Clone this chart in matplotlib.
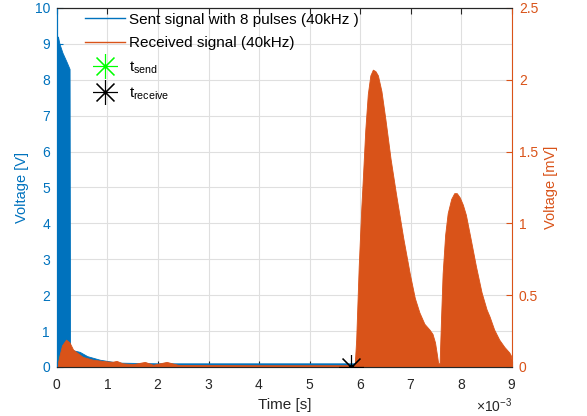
import numpy as np
import matplotlib; matplotlib.use("Agg")
import matplotlib.pyplot as plt
from matplotlib.lines import Line2D
from matplotlib.ticker import ScalarFormatter

plt.rcParams.update({'font.family': 'Liberation Sans', 'font.size': 10,
                     'axes.unicode_minus': False, 'mathtext.default': 'regular'})

BLUE = '#0072BD'
ORANGE = '#D95319'

# sent signal envelope (time in ms, voltage in V)
sent_t = [0.0, 0.01, 0.02, 0.05, 0.11, 0.19, 0.25, 0.26, 0.3, 0.45, 0.6, 0.85, 1.2,
          2.0, 3.0, 4.0, 5.0, 5.9, 6.25, 6.3, 7.0, 7.9, 8.5, 9.0]
sent_v = [0.0, 9.2, 9.2, 9.0, 8.75, 8.5, 8.3, 0.5, 0.47, 0.42, 0.3, 0.2, 0.12,
          0.1, 0.1, 0.1, 0.1, 0.1, 0.1, 0.05, 0.05, 0.08, 0.04, 0.02]

# received signal envelope (time in ms, voltage in mV)
recv_t = [0.0, 0.05, 0.1, 0.18, 0.25, 0.32, 0.51, 0.71, 1.0, 1.1, 1.18, 1.3, 1.5,
          1.74, 1.9, 2.17, 2.4, 3.0, 4.0, 5.0, 5.8, 5.89,
          5.92, 5.97, 6.02, 6.05, 6.1, 6.15, 6.2, 6.25, 6.3, 6.35, 6.42, 6.5, 6.6,
          6.71, 6.85, 6.98, 7.08, 7.17, 7.27, 7.37, 7.43, 7.48, 7.52, 7.54,
          7.57, 7.6, 7.63, 7.68, 7.73, 7.8, 7.86, 7.91, 7.97, 8.03, 8.09, 8.18,
          8.29, 8.4, 8.5, 8.56, 8.65, 8.75, 8.85, 8.95, 8.98, 9.0]
recv_v = [0.0, 0.08, 0.15, 0.19, 0.17, 0.12, 0.07, 0.05, 0.038, 0.036, 0.042, 0.025,
          0.019, 0.035, 0.015, 0.035, 0.014, 0.013, 0.012, 0.012, 0.012, 0.01,
          0.19, 0.7, 1.1, 1.3, 1.65, 1.9, 2.03, 2.07, 2.06, 2.03, 1.92, 1.72, 1.45,
          1.2, 0.9, 0.65, 0.48, 0.38, 0.3, 0.26, 0.23, 0.17, 0.08, 0.03,
          0.02, 0.35, 0.65, 0.92, 1.07, 1.17, 1.21, 1.21, 1.18, 1.13, 1.06, 0.9,
          0.7, 0.52, 0.4, 0.35, 0.26, 0.19, 0.14, 0.1, 0.08, 0.04]

# marker times (ms)
t_send = 0.0
t_receive = 5.82

fig = plt.figure(figsize=(5.87, 4.16), dpi=100)
ax = fig.add_axes([0.097, 0.118, 0.775, 0.863])
ax2 = ax.twinx()

st = np.array(sent_t) * 1e-3
rt = np.array(recv_t) * 1e-3

ax.fill_between(st, 0, sent_v, color=BLUE, lw=0.6, edgecolor=BLUE, zorder=2)
ax.plot([t_send * 1e-3], [0], marker=(8, 2, 0), ms=18, color='#00FF00', mew=0.8, zorder=3)
ax.plot([t_send * 1e-3], [0], 'o', ms=3, color='#00CC00', zorder=3)
ax2.fill_between(rt, 0, recv_v, color=ORANGE, lw=0.6, edgecolor=ORANGE, zorder=2)
ax2.plot([t_receive * 1e-3], [0], marker=(8, 2, 0), ms=18, color='black', mew=0.8, zorder=3)
ax2.plot([t_receive * 1e-3], [0], 'o', ms=3, color='black', zorder=3)

ax.set_xlim(0, 9e-3)
ax.set_ylim(0, 10)
ax2.set_ylim(0, 2.5)
ax.set_xticks(np.arange(0, 10) * 1e-3)
ax.set_yticks(np.arange(0, 11, 1))
ax2.set_yticks(np.arange(0, 2.6, 0.5))
ax2.set_yticklabels(['0', '0.5', '1', '1.5', '2', '2.5'])
fmt = ScalarFormatter(useMathText=True)
fmt.set_powerlimits((-2, 2))
ax.xaxis.set_major_formatter(fmt)

ax.grid(True, color='#DFDFDF', lw=0.8)
ax.set_axisbelow(True)

ax.tick_params(axis='x', direction='in', top=True, length=4, pad=8, colors='#262626')
ax.tick_params(axis='y', direction='in', length=4, pad=5, colors=BLUE, labelcolor=BLUE)
ax2.tick_params(axis='y', direction='in', length=4, pad=5, colors=ORANGE, labelcolor=ORANGE)
ax.tick_params(labelsize=10)
ax2.tick_params(labelsize=10)

for s in ['top', 'bottom']:
    ax.spines[s].set_color('#262626')
    ax2.spines[s].set_color('#262626')
ax.spines['left'].set_color(BLUE)
ax2.spines['left'].set_color(BLUE)
ax2.spines['right'].set_color(ORANGE)
ax.spines['right'].set_visible(False)

ax.set_xlabel('Time [s]', color='#262626', fontsize=11, labelpad=4)
ax.set_ylabel('Voltage [V]', color=BLUE, fontsize=10.5, labelpad=4)
ax2.set_ylabel('Voltage [mV]', color=ORANGE, fontsize=10.5, labelpad=4)

handles = [Line2D([], [], color=BLUE, lw=1),
           Line2D([], [], color=ORANGE, lw=1),
           Line2D([], [], ls='none', marker=(8, 2, 0), ms=18, color='#00FF00', mew=0.8),
           Line2D([], [], ls='none', marker=(8, 2, 0), ms=18, color='black', mew=0.8)]
labels = ['Sent signal with 8 pulses (40kHz )', 'Received signal (40kHz)',
          't$_{send}$', 't$_{receive}$']
ax2.legend(handles, labels, loc='upper left', bbox_to_anchor=(0.031, 1.025),
           frameon=False, fontsize=11, handlelength=2.6, handletextpad=0.3,
           labelspacing=0.62)

fig.savefig('out.png', dpi=100)
